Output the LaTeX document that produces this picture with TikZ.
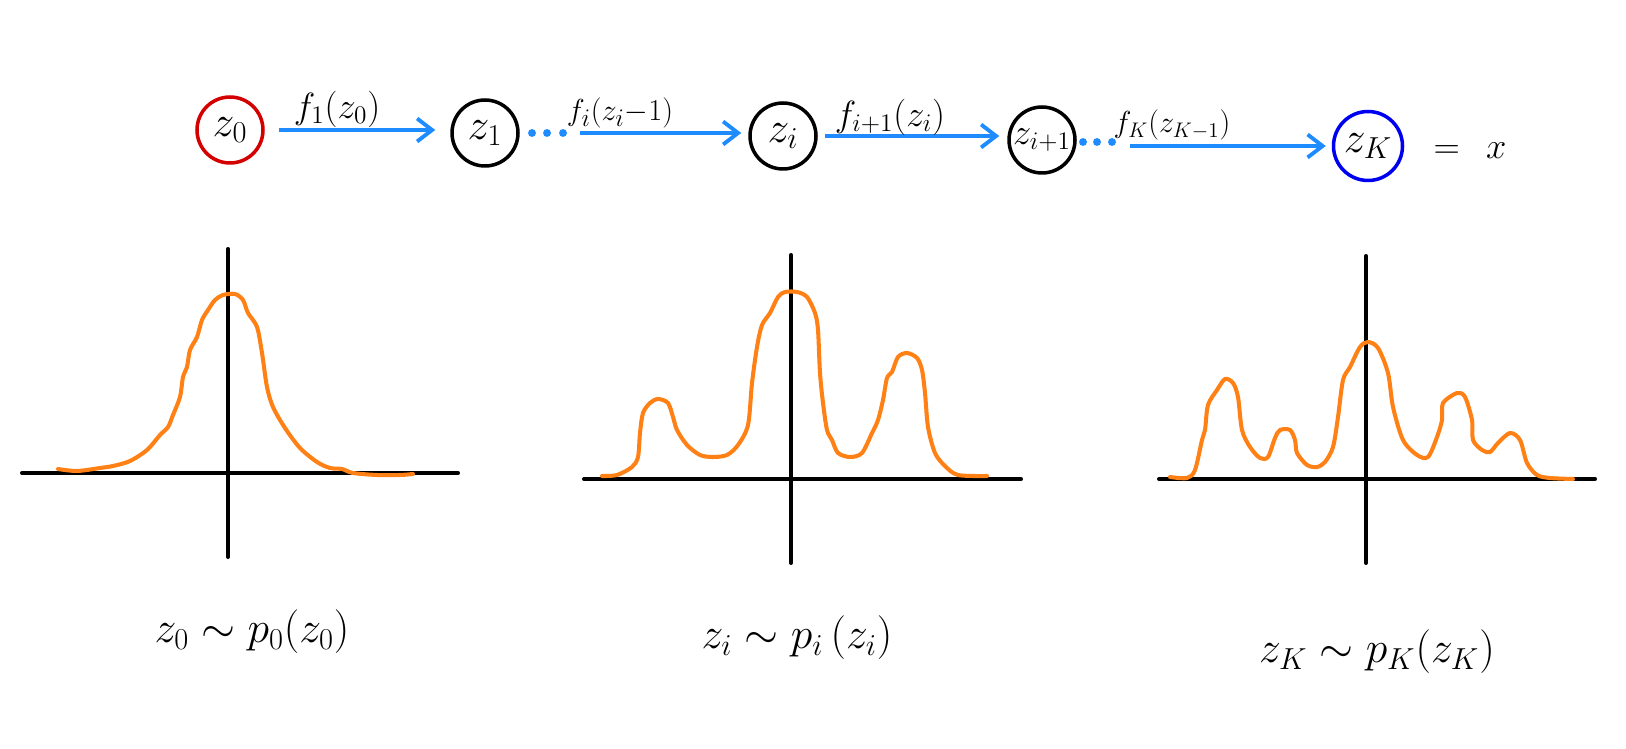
\documentclass[tikz,border=0pt]{standalone}
\usetikzlibrary{arrows.meta}
\definecolor{zred}{RGB}{212,0,0}
\definecolor{flowblue}{RGB}{30,140,255}
\definecolor{zblue}{RGB}{0,0,240}
\definecolor{dens}{RGB}{255,128,20}
\tikzset{
  state/.style={circle, draw, line width=2pt, minimum size=1.32cm, inner sep=0pt, font=\fontsize{25}{28}\selectfont},
  flow/.style={draw=flowblue, line width=2.2pt, -{Straight Barb[length=0.3cm, width=0.46cm, line width=2.2pt]}},
  lab/.style={font=\fontsize{21}{24}\selectfont, inner sep=1pt},
  biglab/.style={font=\fontsize{24}{28}\selectfont, inner sep=1pt},
  dotn/.style={circle, fill=flowblue, inner sep=0pt, minimum size=4.5pt},
  axis/.style={line width=2.3pt, line cap=round},
  density/.style={draw=dens, line width=2.3pt, line cap=round, line join=round},
}
\begin{document}
\begin{tikzpicture}[x=0.02cm, y=-0.02cm]
\useasboundingbox (0,0) rectangle (1626,749);
% states
\node[state, draw=zred] (z0) at (230,130) {$z_0$};
\node[state] (z1) at (485,133) {$z_1$};
\node[state] (zi) at (783,136) {$z_i$};
\node[state, font=\fontsize{20}{24}\selectfont] (zi1) at (1042,140) {$z_{i+1}$};
\node[state, draw=zblue, minimum size=1.38cm] (zK) at (1368,146) {$z_K$};
\node[lab] (eqx) at (1470,151) {$=\;\,x$};
% dots
\node[dotn] (d1) at (532,133) {};
\node[dotn] (d2) at (547,133) {};
\node[dotn] (d3) at (563,133) {};
\node[dotn] (d4) at (1083,142) {};
\node[dotn] (d5) at (1097,142) {};
\node[dotn] (d6) at (1112,142) {};
% arrows
\draw[flow, shorten <=0.28cm, shorten >=0.3cm] (z0.east) -- (z0.east -| z1.west);
\draw[flow, shorten <=1.2cm, shorten >=0.14cm] (z1.east) -- (z1.east -| zi.west);
\draw[flow, shorten <=0.14cm, shorten >=0.16cm] (zi.east) -- (zi.east -| zi1.west);
\draw[flow, shorten <=1.06cm, shorten >=0.12cm] (zK.west -| zi1.east) -- (zK.west);
% arrow labels
\node[lab] (l1) at (337,109) {$f_1(z_0)$};
\node[lab, font=\fontsize{19}{22}\selectfont] (l2) at (620,113) {$f_i(z_i{-}1)$};
\node[lab] (l3) at (890,117) {$f_{i+1}(z_i)$};
\node[lab, font=\fontsize{17}{20}\selectfont] (l4) at (1172,125) {$f_K(z_{K-1})$};
% plot 1
\draw[axis] (22,473) -- (458,473);
\draw[axis] (228,249) -- (228,557);
\draw[density] plot[smooth, tension=0.5] coordinates {
 (58,469) (77,471) (100,468) (113,466) (130,461) (147,450) (160,435) (168,427)
 (173,415) (180,397) (183,377) (187,367) (190,350) (197,337) (202,320) (208,310)
 (215,300) (223,295) (235,294) (243,300) (248,313) (257,327) (262,353) (267,387)
 (273,407) (285,428) (300,448) (317,462) (330,468) (342,469) (353,473) (377,475)
 (400,475) (413,474)};
% plot 2
\draw[axis] (584,479) -- (1021,479);
\draw[axis] (791,255) -- (791,563);
\draw[density] plot[smooth, tension=0.5] coordinates {
 (602,476) (617,475) (632,467) (638,457) (640,433) (643,413) (650,403) (658,399)
 (668,403) (673,417) (677,430) (687,445) (700,455) (713,457) (727,455) (738,445)
 (748,425) (752,383) (757,347) (762,325) (770,313) (778,297) (785,292) (797,292)
 (807,297) (815,313) (818,330) (820,373) (823,403) (827,430) (832,440) (838,453)
 (850,457) (862,453) (872,433) (878,420) (883,400) (887,378) (892,372) (898,357)
 (907,353) (917,358) (922,370) (925,393) (928,427) (935,453) (945,466) (958,475)
 (987,476)};
% plot 3
\draw[axis] (1159,479) -- (1595,479);
\draw[axis] (1366,256) -- (1366,563);
\draw[density] plot[smooth, tension=0.5] coordinates {
 (1170,477) (1187,478) (1195,470) (1202,440) (1205,430) (1208,405) (1217,390)
 (1225,379) (1233,383) (1238,397) (1242,430) (1250,447) (1260,458) (1268,457)
 (1275,438) (1280,430) (1290,430) (1295,440) (1297,453) (1307,465) (1317,467)
 (1325,462) (1333,447) (1338,417) (1343,380) (1350,367) (1360,347) (1368,342)
 (1378,348) (1388,373) (1393,407) (1403,440) (1417,455) (1428,457) (1437,437)
 (1442,420) (1443,403) (1457,393) (1465,397) (1472,420) (1473,440) (1482,450)
 (1490,452) (1498,443) (1510,433) (1520,440) (1527,463) (1537,475) (1550,478)
 (1573,479)};
% bottom labels
\node[biglab] (b1) at (252,632) {$z_0\sim p_0(z_0)$};
\node[biglab] (b2) at (797,638) {$z_i\sim p_i\,(z_i)$};
\node[biglab] (b3) at (1377,652) {$z_K\sim p_K(z_K)$};
\end{tikzpicture}
\end{document}
